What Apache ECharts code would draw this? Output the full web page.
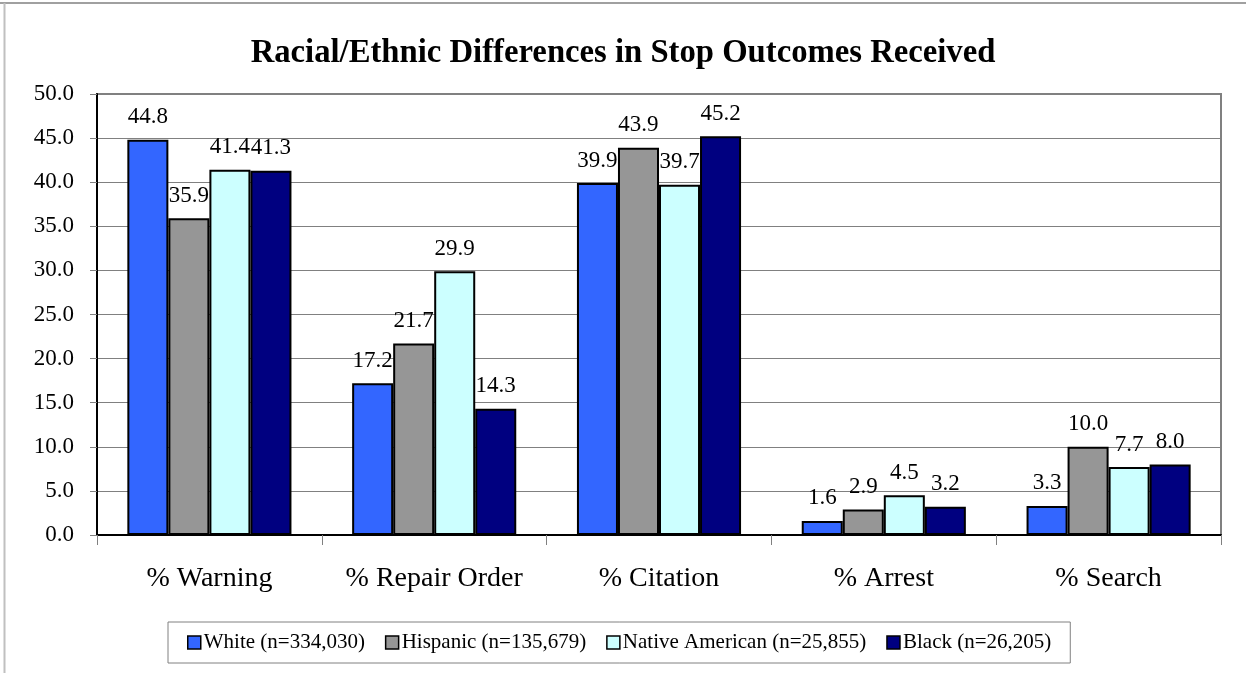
<!DOCTYPE html>
<html>
<head>
<meta charset="utf-8">
<script src="https://cdn.jsdelivr.net/npm/echarts@6/dist/echarts.min.js"></script>
<style>
  html, body { margin: 0; padding: 0; background: #fff; }
  #chart { width: 1246px; height: 673px; }
</style>
</head>
<body>
<div id="chart"></div>
<script>
// Stop outcomes by race/ethnicity, percent of stops
const categories = ['% Warning', '% Repair Order', '% Citation', '% Arrest', '% Search'];
const seriesNames = ['White (n=334,030)', 'Hispanic (n=135,679)', 'Native American (n=25,855)', 'Black (n=26,205)'];
const white = [44.8, 17.2, 39.9, 1.6, 3.3];
const hispanic = [35.9, 21.7, 43.9, 2.9, 10.0];
const nativeAmerican = [41.4, 29.9, 39.7, 4.5, 7.7];
const black = [41.3, 14.3, 45.2, 3.2, 8.0];
const yTicks = { min: 0, max: 50, step: 5 };

const colors = ['#3366FF', '#969696', '#CCFFFF', '#000080'];
const values = [white, hispanic, nativeAmerican, black];
const FONT = '"Liberation Serif", "Times New Roman", serif';

const chart = echarts.init(document.getElementById('chart'), null, { renderer: 'canvas' });

const series = values.map((data, i) => ({
  name: seriesNames[i],
  type: 'bar',
  data: data,
  barGap: '0%',
  barCategoryGap: '27%',
  itemStyle: { color: colors[i], borderColor: '#000', borderWidth: 2 },
  label: {
    show: true,
    position: 'top',
    distance: 11,
    formatter: p => p.value.toFixed(1),
    fontFamily: FONT,
    fontSize: 23,
    color: '#000'
  }
}));

chart.setOption({
  animation: false,
  backgroundColor: '#fff',
  title: {
    text: 'Racial/Ethnic Differences in Stop Outcomes Received',
    left: 'center',
    top: 32,
    textStyle: { fontFamily: FONT, fontSize: 32.7, fontWeight: 'bold', color: '#000' }
  },
  grid: {
    left: 97, right: 25, top: 94, bottom: 138,
    show: true, borderColor: '#808080', borderWidth: 2, backgroundColor: '#fff'
  },
  legend: {
    left: 168,
    top: 622,
    padding: [10, 19, 10, 19],
    itemWidth: 13,
    itemHeight: 13,
    itemGap: 20,
    icon: 'rect',
    borderColor: '#808080',
    borderWidth: 1,
    itemStyle: { borderColor: '#000', borderWidth: 1.5 },
    textStyle: { fontFamily: FONT, fontSize: 21, color: '#000', padding: [0, 0, 0, -2] },
    data: seriesNames
  },
  xAxis: {
    type: 'category',
    data: categories,
    axisLine: { lineStyle: { color: '#000', width: 2 } },
    axisTick: { show: true, length: 10, lineStyle: { color: '#808080' } },
    axisLabel: { interval: 0, fontFamily: FONT, fontSize: 28, color: '#000', margin: 30 }
  },
  yAxis: {
    type: 'value',
    min: yTicks.min,
    max: yTicks.max,
    interval: yTicks.step,
    axisLine: { show: true, lineStyle: { color: '#000', width: 2 } },
    axisTick: { show: true, length: 7, lineStyle: { color: '#808080' } },
    splitLine: { lineStyle: { color: '#808080', width: 1 } },
    axisLabel: {
      fontFamily: FONT, fontSize: 23, color: '#000', margin: 23,
      formatter: v => v.toFixed(1)
    }
  },
  graphic: [
    { type: 'line', shape: { x1: 0, y1: 3, x2: 1246, y2: 3 }, style: { stroke: '#808080', lineWidth: 1.5 } },
    { type: 'line', shape: { x1: 4.5, y1: 3, x2: 4.5, y2: 673 }, style: { stroke: '#c0c0c0', lineWidth: 2 } }
  ],
  series: series
});
</script>
</body>
</html>
